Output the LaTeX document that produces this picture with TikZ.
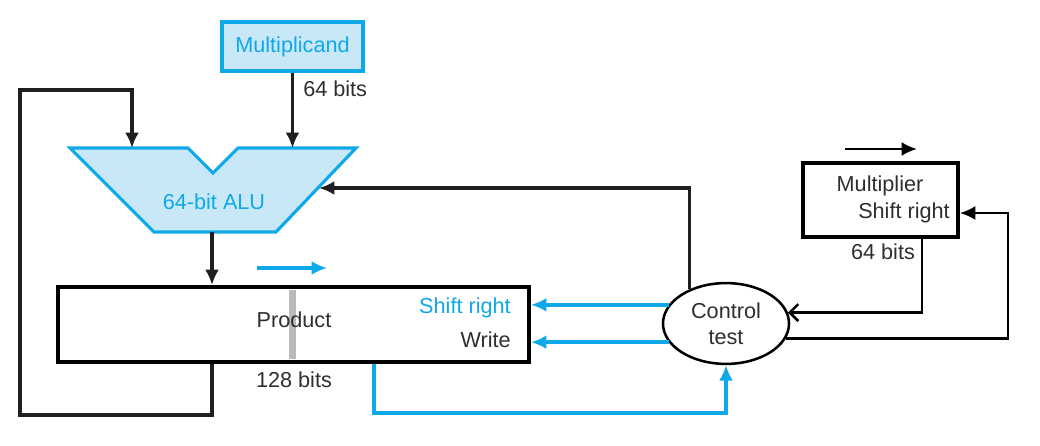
\documentclass[tikz,border=0pt]{standalone}
\usepackage{fontspec}
\setmainfont{Liberation Sans}
\usetikzlibrary{arrows.meta,shapes.geometric}
\definecolor{hwblue}{RGB}{15,168,232}
\definecolor{hwfill}{RGB}{200,232,248}
\tikzset{
  wire/.style={line width=2.4pt, draw=black!88},
  bwire/.style={line width=2.4pt, draw=hwblue},
  tip/.style={-{Latex[length=11pt,width=10pt]}},
  chev/.style={-{Straight Barb[length=6pt,width=12pt]}},
  lbl/.style={font=\fontsize{15.4}{18.5}\selectfont, inner sep=0pt, text=black!82},
  reg/.style={draw, line width=2.6pt, inner sep=0pt},
}

\begin{document}
\begin{tikzpicture}[x=0.025cm, y=-0.025cm]
\useasboundingbox (0,0) rectangle (1040,446);
% Multiplicand register
\node[reg, draw=hwblue, fill=hwfill, lbl, text=hwblue, minimum width=3.52cm, minimum height=1.22cm] (mcand) at (292.5,46.5) {Multiplicand};
\node[lbl, anchor=west] (mbits) at (303,89) {64 bits};

% ALU with notch on top
\draw[hwblue, fill=hwfill, line width=2.2pt, line join=miter] (70,148) -- (188,148) -- (213,173) -- (238,148) -- (356,148) -- (276,232) -- (154,232) -- cycle;
\node[lbl, text=hwblue] (alu) at (214,202) {64-bit ALU};
\coordinate (aluA) at (132,148);
\coordinate (aluB) at (292.5,148);
\coordinate (aluR) at (319,188);
\coordinate (aluO) at (212,232);

% Product register
\node[reg, minimum width=11.78cm, minimum height=1.88cm] (prod) at (293.5,324.5) {};
\fill[black!27] (289,290) rectangle (296,359);
\node[lbl] (ptxt) at (294,320) {Product};
\node[lbl, text=hwblue, anchor=east] (psr) at (511,308) {Shift right};
\node[lbl, anchor=east] (pwr) at (511,340) {Write};
\node[lbl] (pbits) at (294,380) {128 bits};
\coordinate (ps1) at (257,268);
\coordinate (ps2) at (327,268);
\draw[bwire, tip] (ps1) -- (ps2);

% Multiplier register
\node[reg, minimum width=3.88cm, minimum height=1.85cm] (mplier) at (880.5,200) {};
\node[lbl] (mtxt) at (880,186) {Multiplier};
\node[lbl, anchor=east] (msr) at (950,213) {Shift right};
\node[lbl] (qbits) at (883,252) {64 bits};
\coordinate (ms1) at (845,149);
\coordinate (ms2) at (917,149);
\draw[line width=1.8pt, tip] (ms1) -- (ms2);

% Control
\node[ellipse, draw, line width=1.8pt, inner sep=0pt, minimum width=3.15cm, minimum height=2.02cm, lbl, align=center] (ctrl) at (726,323.5) {Control\\test};

% connectors
\draw[wire, tip] (mcand.south) -- (aluB);
\draw[wire, tip] (aluO) -- (aluO |- prod.north);
\draw[wire, tip] (prod.south -| aluO) -- ++(0,51) -| (20,90) -| (aluA);
\draw[wire, tip] (ctrl.137) |- (aluR);
\draw[bwire, tip] (ctrl.162) -- (ctrl.162 -| prod.east);
\draw[bwire, tip] (ctrl.198) -- (ctrl.198 -| prod.east);
\coordinate (bl) at (374,413);
\draw[bwire, tip] (prod.south -| bl) -- (bl) -| (ctrl.south);
\coordinate (mq) at (922,312);
\draw[line width=1.8pt, chev] (mplier.south -| mq) |- (ctrl.10);
\coordinate (mr) at (1008,213);
\draw[line width=1.6pt, tip] (ctrl.346) -| (mr) -- (mr -| mplier.east);
\end{tikzpicture}
\end{document}
